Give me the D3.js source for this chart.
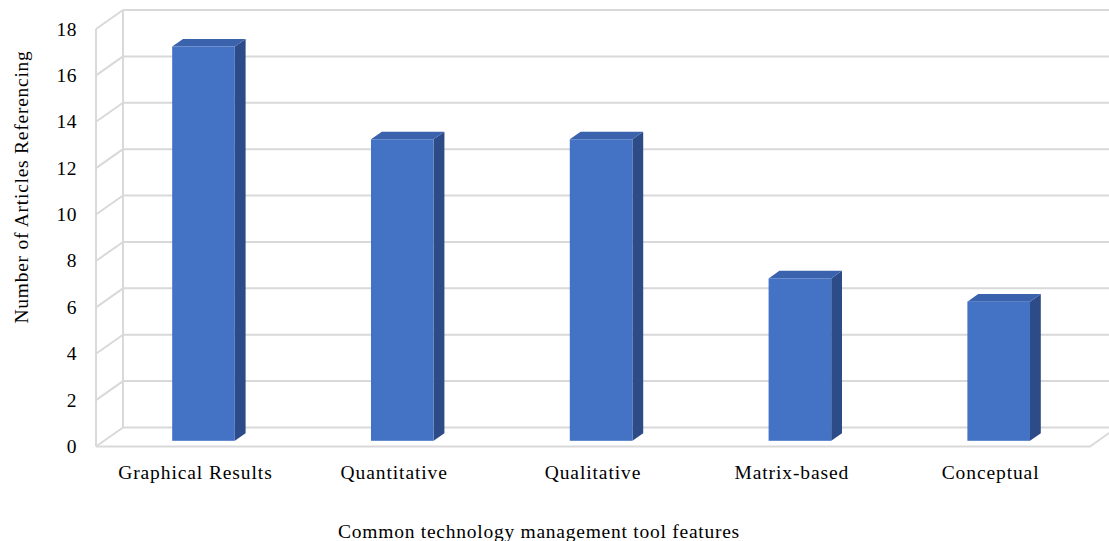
<!DOCTYPE html>
<html>
<head>
<meta charset="utf-8">
<script src="https://cdn.jsdelivr.net/npm/d3@7"></script>
<style>
  html, body { margin: 0; padding: 0; background: #fff; }
  svg { display: block; }
  text { font-family: "Liberation Serif", "Times New Roman", serif; fill: #000; }
</style>
</head>
<body>
<svg id="chart" width="1109" height="541"></svg>
<script>
// Data
const categories = ["Graphical Results", "Quantitative", "Qualitative", "Matrix-based", "Conceptual"];
const articleCounts = [17, 13, 13, 7, 6];
const yTicks = [0, 2, 4, 6, 8, 10, 12, 14, 16, 18];
const xTitle = "Common technology management tool features";
const yTitle = "Number of Articles Referencing";

(function () {
  const W = 1109;
  const svg = d3.select("#chart");

  // Front plane of the 3D box
  const plotLeft = 96, plotRight = 1090, plotBottom = 446.5, plotTop = 29;
  // Depth vector from front plane to back wall
  const DX = 27, DY = -19;

  const x = d3.scaleBand().domain(categories).range([plotLeft, plotRight]);
  const y = d3.scaleLinear().domain([0, 18]).range([plotBottom, plotTop]);

  // project (screen x at front, value, depth 0..1)
  const px = (sx, z) => sx + z * DX;
  const py = (v, z) => y(v) + z * DY;

  const gridColor = "#d9d9d9";
  const g = svg.append("g");

  // Back wall gridlines
  g.selectAll("line.back").data(yTicks).join("line").attr("class", "back")
    .attr("x1", px(plotLeft, 1)).attr("x2", W + 10)
    .attr("y1", d => py(d, 1)).attr("y2", d => py(d, 1))
    .attr("stroke", gridColor).attr("stroke-width", 2);

  // Left side wall: diagonals at each tick
  g.selectAll("line.side").data(yTicks).join("line").attr("class", "side")
    .attr("x1", px(plotLeft, 0)).attr("x2", px(plotLeft, 1))
    .attr("y1", d => py(d, 0)).attr("y2", d => py(d, 1))
    .attr("stroke", gridColor).attr("stroke-width", 2);

  // Left wall verticals
  g.append("line").attr("x1", px(plotLeft, 0)).attr("x2", px(plotLeft, 0))
    .attr("y1", py(0, 0)).attr("y2", py(18, 0))
    .attr("stroke", gridColor).attr("stroke-width", 2);
  g.append("line").attr("x1", px(plotLeft, 1)).attr("x2", px(plotLeft, 1))
    .attr("y1", py(0, 1)).attr("y2", py(18, 1))
    .attr("stroke", gridColor).attr("stroke-width", 2);

  // Floor front edge and right diagonal
  g.append("path")
    .attr("d", `M${px(plotLeft,0)},${py(0,0)} L${px(plotRight,0)},${py(0,0)} L${px(plotRight,1)},${py(0,1)}`)
    .attr("fill", "none").attr("stroke", gridColor).attr("stroke-width", 2);

  // Bars
  const z0 = 0.3, z1 = 0.7;
  const barW = x.bandwidth() * 0.315;
  const frontC = "#4472c4", sideC = "#2c4b87", topC = "#3a62ad";

  const bars = g.selectAll("g.bar")
    .data(categories.map((c, i) => ({ c, v: articleCounts[i] })))
    .join("g").attr("class", "bar");

  bars.each(function (d) {
    const gb = d3.select(this);
    const cx = x(d.c) + x.bandwidth() / 2;
    const xl = cx - barW / 2, xr = cx + barW / 2;
    // side face
    gb.append("path").attr("fill", sideC)
      .attr("d", `M${px(xr,z0)},${py(0,z0)} L${px(xr,z1)},${py(0,z1)} L${px(xr,z1)},${py(d.v,z1)} L${px(xr,z0)},${py(d.v,z0)} Z`);
    // top face
    gb.append("path").attr("fill", topC)
      .attr("d", `M${px(xl,z0)},${py(d.v,z0)} L${px(xl,z1)},${py(d.v,z1)} L${px(xr,z1)},${py(d.v,z1)} L${px(xr,z0)},${py(d.v,z0)} Z`);
    // front face
    gb.append("rect").attr("fill", frontC)
      .attr("x", px(xl, z0)).attr("y", py(d.v, z0))
      .attr("width", barW).attr("height", py(0, z0) - py(d.v, z0));
  });

  // Y tick labels
  g.selectAll("text.ytick").data(yTicks).join("text").attr("class", "ytick")
    .attr("x", 77).attr("y", d => py(d, 0))
    .attr("text-anchor", "end").attr("dominant-baseline", "central")
    .attr("font-size", 19.5).attr("letter-spacing", 0.5).text(d => d);

  // X category labels
  g.selectAll("text.xtick").data(categories).join("text").attr("class", "xtick")
    .attr("x", d => x(d) + x.bandwidth() / 2).attr("y", 472)
    .attr("text-anchor", "middle").attr("dominant-baseline", "central")
    .attr("font-size", 19.5).attr("letter-spacing", 0.9).text(d => d);

  // Axis titles
  svg.append("text").attr("x", 539).attr("y", 531)
    .attr("text-anchor", "middle").attr("dominant-baseline", "central")
    .attr("font-size", 19.5).attr("letter-spacing", 0.75).text(xTitle);

  svg.append("text").attr("transform", "translate(21,187) rotate(-90)")
    .attr("text-anchor", "middle").attr("dominant-baseline", "central")
    .attr("font-size", 19.5).attr("letter-spacing", 0.75).text(yTitle);
})();
</script>
</body>
</html>
